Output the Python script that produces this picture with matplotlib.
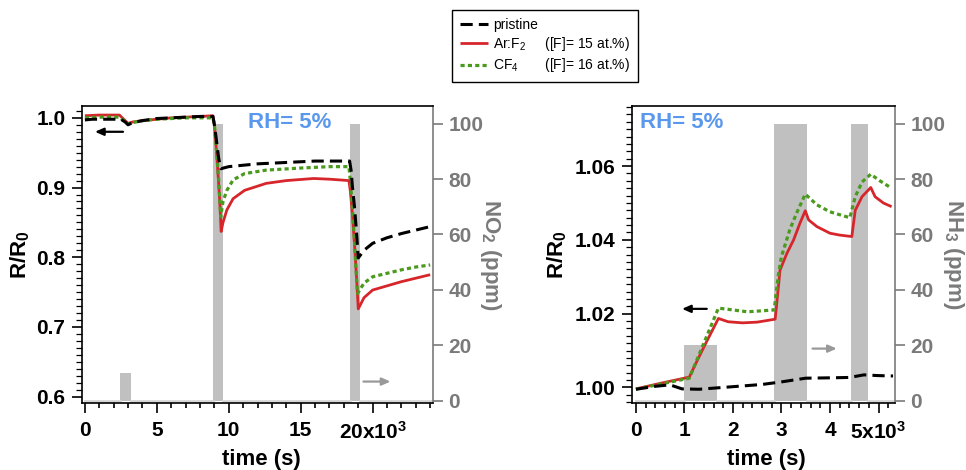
import numpy as np
import matplotlib
matplotlib.use('Agg')
import matplotlib.pyplot as plt
from matplotlib.ticker import MultipleLocator, FixedLocator, FixedFormatter

plt.rcParams['font.family'] = ['Liberation Sans', 'DejaVu Sans']
plt.rcParams['mathtext.fontset'] = 'custom'
plt.rcParams['mathtext.rm'] = 'Liberation Sans'
plt.rcParams['mathtext.it'] = 'Liberation Sans:italic'
plt.rcParams['mathtext.bf'] = 'Liberation Sans:bold'
plt.rcParams['mathtext.default'] = 'regular'

# ---------------- data: NO2 panel (time in 10^3 s) ----------------
no2_t_pristine = [0, 0.5, 2.5, 2.8, 3.0, 3.3, 4, 5, 6, 7, 8, 8.9, 9.0, 9.1, 9.2, 9.3, 9.45,
                  10, 11, 12, 13, 14, 15, 16, 17, 18, 18.4, 18.5, 18.6, 18.75, 18.9, 19.0,
                  19.4, 20, 21, 22, 23, 24]
no2_pristine = [0.997, 0.998, 0.998, 0.994, 0.990, 0.993, 0.996, 0.999, 1.000, 1.001, 1.002, 1.002,
                0.990, 0.975, 0.958, 0.942, 0.927,
                0.930, 0.932, 0.934, 0.935, 0.936, 0.937, 0.938, 0.938, 0.938, 0.938,
                0.925, 0.900, 0.870, 0.830, 0.799,
                0.810, 0.820, 0.828, 0.834, 0.839, 0.844]

no2_t_arf2 = [0, 1, 2.4, 3.0, 3.3, 4, 5, 6, 7, 8, 8.9, 9.0, 9.1, 9.2, 9.3, 9.4, 9.47,
              9.6, 9.87, 10.3, 11.1, 12.6, 14, 15.9, 17, 18.35, 18.45, 18.6, 18.75, 18.9, 19.0,
              19.4, 20, 21, 22, 23, 24]
no2_arf2 = [1.003, 1.004, 1.004, 0.992, 0.994, 0.996, 0.998, 1.000, 1.001, 1.002, 1.003,
            0.990, 0.965, 0.935, 0.905, 0.870, 0.837,
            0.850, 0.868, 0.884, 0.896, 0.906, 0.910, 0.913, 0.912, 0.910,
            0.895, 0.860, 0.815, 0.765, 0.726,
            0.742, 0.753, 0.759, 0.765, 0.770, 0.775]

no2_t_cf4 = [0, 1, 2.4, 3.0, 3.3, 4, 5, 6, 7, 8, 8.9, 9.0, 9.1, 9.2, 9.3, 9.44,
             9.6, 9.87, 10.3, 11.1, 12.6, 15, 17, 18.35, 18.45, 18.6, 18.75, 18.85, 18.95,
             19.4, 20, 21, 22, 23, 24]
no2_cf4 = [1.000, 1.001, 1.001, 0.991, 0.993, 0.996, 0.998, 0.999, 1.000, 1.000, 1.000,
           0.990, 0.965, 0.940, 0.910, 0.858,
           0.880, 0.896, 0.911, 0.920, 0.925, 0.928, 0.930, 0.930,
           0.910, 0.870, 0.820, 0.780, 0.748,
           0.763, 0.772, 0.777, 0.782, 0.786, 0.789]

no2_pulse_start = [2.45, 8.87, 18.4]
no2_pulse_end = [3.2, 9.59, 19.15]
no2_pulse_ppm = [10, 100, 100]
no2_t_range = [0, 24.1]

# ---------------- data: NH3 panel (time in 10^3 s) ----------------
nh3_t_pristine = [0, 0.4, 0.7, 0.95, 1.3, 2.0, 2.6, 3.0, 3.5, 4.0, 4.4, 4.7, 5.0, 5.3]
nh3_pristine = [0.9995, 1.0003, 1.0007, 0.9996, 0.9995, 1.0002, 1.0008, 1.0015, 1.0025,
                1.0026, 1.0027, 1.0034, 1.0032, 1.0031]

nh3_t_arf2 = [0, 0.5, 1.1, 1.23, 1.41, 1.7, 1.9, 2.2, 2.5, 2.87, 2.93, 2.97, 3.11, 3.25,
              3.38, 3.49, 3.56, 3.73, 4.0, 4.2, 4.45, 4.52, 4.66, 4.84, 4.93, 5.1, 5.27]
nh3_arf2 = [0.9996, 1.0011, 1.0028, 1.0064, 1.0112, 1.0187, 1.0178, 1.0175, 1.0177, 1.0185,
            1.0264, 1.0318, 1.0363, 1.0400, 1.0445, 1.0479, 1.0454, 1.0436, 1.0418, 1.0413,
            1.0409, 1.0480, 1.0517, 1.0542, 1.0517, 1.0500, 1.0490]

nh3_t_cf4 = [0, 0.5, 1.1, 1.4, 1.7, 2.0, 2.3, 2.85, 2.93, 3.0, 3.17, 3.31, 3.49, 3.73, 4.0,
             4.41, 4.52, 4.66, 4.84, 5.03, 5.27]
nh3_cf4 = [0.9995, 1.0009, 1.0025, 1.0120, 1.0215, 1.0210, 1.0205, 1.0210, 1.0300, 1.0355,
           1.0427, 1.0472, 1.0524, 1.0495, 1.0476, 1.0460, 1.0517, 1.0557, 1.0578, 1.0560,
           1.0540]

nh3_pulse_start = [1.0, 2.85, 4.43]
nh3_pulse_end = [1.67, 3.52, 4.78]
nh3_pulse_ppm = [20, 100, 100]
nh3_t_range = [0, 5.3]

no2_xticks = [0, 5, 10, 15, 20]
no2_xticklabels = ['0', '5', '10', '15', '20x10$^3$']
nh3_xticks = [0, 1, 2, 3, 4, 5]
nh3_xticklabels = ['0', '1', '2', '3', '4', '5x10$^3$']
no2_yticks = [0.6, 0.7, 0.8, 0.9, 1.0]
no2_yticklabels = ['0.6', '0.7', '0.8', '0.9', '1.0']
nh3_yticks = [1.00, 1.02, 1.04, 1.06]
nh3_yticklabels = ['1.00', '1.02', '1.04', '1.06']
ppm_ticks = [0, 20, 40, 60, 80, 100]

series_names = ['pristine', 'Ar:F$_2$     ([F]= 15 at.%)', 'CF$_4$       ([F]= 16 at.%)']

# ---------------- style ----------------
RED = '#D7262B'
GREEN = '#4A9A1E'
BLACK = '#000000'
BAR = '#C0C0C0'
BASE = '#D6D6D6'
GRAY = '#7A7A7A'
BLUE = '#5A98EE'
FS = 15
LFS = 16


def profile(starts, ends, heights, t_range):
    t = [t_range[0]]
    v = [0.0]
    for s, e, h in zip(starts, ends, heights):
        t += [s, s, e, e]
        v += [0.0, h, h, 0.0]
    t.append(t_range[1])
    v.append(0.0)
    return np.array(t), np.array(v)


def setup_panel(ax, series, pulses, t_range, xlim, ylim, xticks, xticklabels, xminor,
                yticks, yticklabels, yminor, ppm_label, rlabel_x, ylabel_x):
    ax2 = ax.twinx()
    ax.set_zorder(ax2.get_zorder() + 1)
    ax.patch.set_visible(False)

    t, v = profile(*pulses, t_range)
    ax2.fill_between(t, v, 0, color=BAR, lw=0)
    base = np.where(v == 0, v, np.nan)
    ax2.plot(t, base, color=BASE, lw=2.0)
    ax2.set_ylim(-0.83, 106.4)
    ax2.yaxis.set_major_locator(FixedLocator(ppm_ticks))
    ax2.tick_params(axis='y', colors=GRAY, labelsize=FS, length=7, width=1.2, pad=4)
    for lab in ax2.get_yticklabels():
        lab.set_fontweight('bold')
    ax2.set_ylabel(ppm_label, color=GRAY, fontsize=LFS, fontweight='bold', rotation=270,
                   va='center')
    ax2.yaxis.set_label_coords(rlabel_x, 0.5)
    for sp in ['left', 'top', 'bottom']:
        ax2.spines[sp].set_visible(False)
    ax2.spines['right'].set_color(GRAY)
    ax2.spines['right'].set_linewidth(1.2)

    handles = {}
    for (name, tt, yy, col, dashes, lw) in series:
        ln, = ax.plot(tt, yy, color=col, lw=lw, solid_capstyle='butt')
        if dashes is not None:
            ln.set_dashes(dashes)
        handles[name] = ln

    ax.set_xlim(*xlim)
    ax.set_ylim(*ylim)
    ax.xaxis.set_major_locator(FixedLocator(xticks))
    ax.xaxis.set_major_formatter(FixedFormatter(xticklabels))
    ax.xaxis.set_minor_locator(MultipleLocator(xminor))
    ax.yaxis.set_major_locator(FixedLocator(yticks))
    ax.yaxis.set_major_formatter(FixedFormatter(yticklabels))
    ax.yaxis.set_minor_locator(MultipleLocator(yminor))
    ax.tick_params(axis='both', which='major', labelsize=FS, length=7, width=1.2, direction='out')
    ax.tick_params(axis='x', which='major', pad=6)
    ax.tick_params(axis='x', which='minor', length=3.5, width=1.2, direction='out')
    ax.tick_params(axis='y', which='minor', length=4, width=0.9, direction='out')
    ax.tick_params(axis='y', which='major', pad=5)
    for lab in ax.get_xticklabels() + ax.get_yticklabels():
        lab.set_fontweight('bold')
    for sp in ['left', 'top', 'bottom']:
        ax.spines[sp].set_linewidth(1.2)
    ax.spines['right'].set_visible(False)
    ax.set_xlabel('time (s)', fontsize=LFS, fontweight='bold')
    ax.xaxis.set_label_coords(0.51, -0.155)
    ax.set_ylabel('R/R$_0$', fontsize=LFS, fontweight='bold', va='center')
    ax.yaxis.set_label_coords(ylabel_x, 0.5)
    return ax2, handles


fig = plt.figure(figsize=(9.66, 4.70), dpi=100)
axL = fig.add_axes([0.0849, 0.1426, 0.3634, 0.6319])
axR = fig.add_axes([0.6542, 0.1426, 0.2723, 0.6319])

dash_black = (4, 2)
dash_green = (1.3, 1.0)

seriesL = [
    (series_names[1], no2_t_arf2, no2_arf2, RED, None, 2.0),
    (series_names[2], no2_t_cf4, no2_cf4, GREEN, dash_green, 2.3),
    (series_names[0], no2_t_pristine, no2_pristine, BLACK, dash_black, 2.2),
]
seriesR = [
    (series_names[1], nh3_t_arf2, nh3_arf2, RED, None, 2.0),
    (series_names[2], nh3_t_cf4, nh3_cf4, GREEN, dash_green, 2.3),
    (series_names[0], nh3_t_pristine, nh3_pristine, BLACK, dash_black, 2.2),
]

axL2, hL = setup_panel(axL, seriesL, (no2_pulse_start, no2_pulse_end, no2_pulse_ppm),
                       no2_t_range, (-0.2, 24.2), (0.591, 1.017),
                       no2_xticks, no2_xticklabels, 1, no2_yticks, no2_yticklabels, 0.01,
                       'NO$_2$ (ppm)', 1.165, -0.177)
axR2, hR = setup_panel(axR, seriesR, (nh3_pulse_start, nh3_pulse_end, nh3_pulse_ppm),
                       nh3_t_range, (-0.082, 5.34), (0.99578, 1.0763),
                       nh3_xticks, nh3_xticklabels, 0.2, nh3_yticks, nh3_yticklabels, 0.002,
                       'NH$_3$ (ppm)', 1.222, -0.285)

# RH annotations
axL.text(0.473, 0.946, 'RH= 5%', transform=axL.transAxes, color=BLUE, fontsize=LFS,
         fontweight='bold', va='center', ha='left')
axR.text(0.03, 0.943, 'RH= 5%', transform=axR.transAxes, color=BLUE, fontsize=LFS,
         fontweight='bold', va='center', ha='left')

# arrows
ap_k = dict(arrowstyle='-|>,head_length=0.5,head_width=0.22', color='black', lw=1.6,
            shrinkA=0, shrinkB=0)
ap_g = dict(arrowstyle='-|>,head_length=0.5,head_width=0.22', color='#999999', lw=1.6,
            shrinkA=0, shrinkB=0)
axL.annotate('', xy=(0.70, 0.980), xytext=(2.65, 0.980), arrowprops=ap_k)
axL2.annotate('', xy=(21.24, 6.9), xytext=(19.36, 6.9), arrowprops=ap_g)
axR.annotate('', xy=(0.95, 1.0213), xytext=(1.46, 1.0213), arrowprops=ap_k)
axR2.annotate('', xy=(4.14, 18.8), xytext=(3.64, 18.8), arrowprops=ap_g)

# legend
leg = fig.legend([hL[n] for n in series_names], series_names, loc='upper left',
                 bbox_to_anchor=(0.468, 0.979),
                 frameon=True, fancybox=False, edgecolor='black', framealpha=1,
                 fontsize=10, handlelength=2.0, handletextpad=0.4, labelspacing=0.25,
                 borderpad=0.55, borderaxespad=0)
leg.get_frame().set_linewidth(1.0)

fig.savefig('out.png', dpi=100)
